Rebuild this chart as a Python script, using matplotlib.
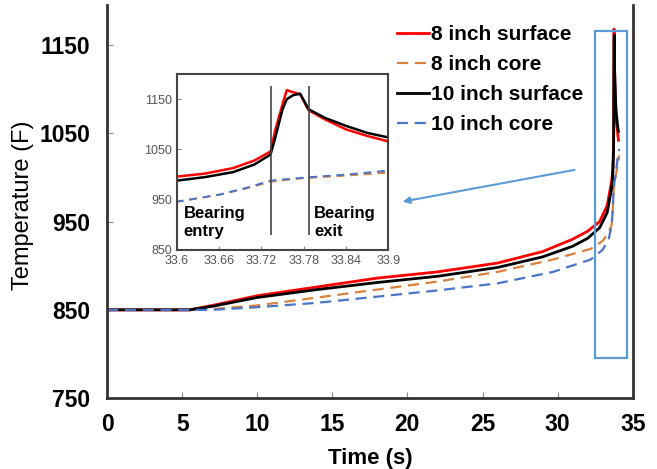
import matplotlib
matplotlib.use('Agg')
import matplotlib.pyplot as plt
from matplotlib.patches import Rectangle

plt.rcParams['font.family'] = ['Liberation Sans', 'DejaVu Sans']

# surface temperatures (F) vs time (s)
t_surf = [0, 5.5, 7, 10, 14, 18, 22, 26, 29, 31, 32, 32.8, 33.3, 33.6, 33.64, 33.68, 33.71,
          33.733, 33.74, 33.75, 33.756, 33.765, 33.775, 33.787, 33.81, 33.84, 33.87, 33.9, 34.0, 34.05]
surf_8 = [850, 850, 855, 866, 876, 886, 893, 903, 916, 930, 939, 950, 968, 996, 1002, 1013, 1028,
          1046, 1090, 1140, 1168, 1164, 1160, 1128, 1110, 1090, 1077, 1066, 1050, 1042]
surf_10 = [850, 850, 854, 864, 873, 881, 888, 898, 910, 922, 931, 943, 960, 988, 995, 1005, 1020,
           1040, 1075, 1130, 1150, 1158, 1161, 1130, 1113, 1097, 1083, 1074, 1058, 1052]

# core temperatures
t_core = [0, 7, 10, 14, 18, 22, 26, 29.7, 32.2, 33, 33.4, 33.6, 33.66, 33.7, 33.733,
          33.78, 33.84, 33.9, 34.0, 34.1]
core_8 = [850, 851, 855, 864, 873, 882, 893, 907, 919, 928, 938, 946, 960, 973, 986,
          993, 998, 1004, 1014, 1025]
core_10 = [850, 850, 853, 858, 865, 872, 880, 893, 907, 918, 930, 946, 960, 974, 988,
           994, 1000, 1008, 1022, 1032]

red = '#ff0000'
orange = '#d9813b'
blue = '#4a74c9'
box_blue = '#5b9bd5'

fig = plt.figure(figsize=(6.57, 4.69), dpi=100)
ax = fig.add_axes([0.163, 0.151, 0.800, 0.838])

ax.plot(t_surf, surf_8, color=red, lw=2, label='8 inch surface')
ax.plot(t_core, core_8, color=orange, lw=1.6, dashes=(5, 3), label='8 inch core')
ax.plot(t_surf, surf_10, color='black', lw=2, label='10 inch surface')
ax.plot(t_core, core_10, color=blue, lw=1.6, dashes=(5, 3), label='10 inch core')

ax.set_xlim(0, 35)
ax.set_ylim(750, 1195)
ax.set_xticks(range(0, 36, 5))
ax.set_yticks([750, 850, 950, 1050, 1150])
ax.tick_params(direction='in', length=4, color='#888888', labelsize=16.5)
ax.tick_params(axis='y', pad=12)
ax.tick_params(axis='x', pad=11)
for lab in ax.get_xticklabels() + ax.get_yticklabels():
    lab.set_fontweight('bold')
for s in ['left', 'bottom', 'right']:
    ax.spines[s].set_linewidth(2)
    ax.spines[s].set_color('#333333')
ax.spines['top'].set_visible(False)
ax.set_xlabel('Time (s)', fontsize=16, fontweight='bold', labelpad=8)
ax.set_ylabel('Temperature (F)', fontsize=17)
ax.yaxis.set_label_coords(-0.139, 0.49)

ax.add_patch(Rectangle((32.5, 795), 2.1, 371, fill=False, edgecolor=box_blue, lw=1.6, zorder=5))
ax.annotate('', xy=(19.5, 972), xytext=(31.3, 1009),
            arrowprops=dict(arrowstyle='-|>', color=box_blue, lw=1.5, mutation_scale=10))

leg = fig.legend(loc='upper left', bbox_to_anchor=(0.592, 0.964), frameon=False,
                 prop={'weight': 'bold', 'size': 15}, handlelength=1.5, handletextpad=0.1,
                 labelspacing=0.53, borderaxespad=0)

# inset zoom on the bearing
ins = fig.add_axes([0.269, 0.467, 0.322, 0.375])
ins.plot(t_surf, surf_8, color=red, lw=1.8)
ins.plot(t_core, core_8, color=orange, lw=1.4, dashes=(4, 3))
ins.plot(t_surf, surf_10, color='black', lw=1.8)
ins.plot(t_core, core_10, color=blue, lw=1.4, dashes=(4, 3))
ins.vlines([33.733, 33.787], 880, 1176, color='#444444', lw=1.2)
ins.set_xlim(33.6, 33.9)
ins.set_ylim(850, 1200)
ins.set_xticks([33.6, 33.66, 33.72, 33.78, 33.84, 33.9])
ins.set_xticklabels(['33.6', '33.66', '33.72', '33.78', '33.84', '33.9'])
ins.set_yticks([850, 950, 1050, 1150])
ins.tick_params(direction='in', length=3, color='#888888', labelsize=9, labelcolor='#555555')
for s in ins.spines.values():
    s.set_linewidth(1.5)
    s.set_color('#444444')
ins.text(33.61, 905, 'Bearing\nentry', fontsize=12, fontweight='bold', va='center', linespacing=1.3)
ins.text(33.795, 905, 'Bearing\nexit', fontsize=12, fontweight='bold', va='center', linespacing=1.3)

fig.savefig('out.png', dpi=100)
